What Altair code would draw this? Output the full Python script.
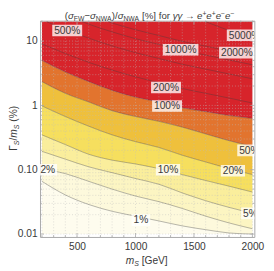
import altair as alt
import pandas as pd

# ---------------- values ----------------
MS = [200, 400, 600, 800, 1000, 1200, 1400, 1600, 1800, 2000]          # m_S [GeV]

# contour lines, Gamma_S/m_S in %, sampled at MS
C1 = [0.066, 0.0406, 0.0288, 0.0226, 0.0190, 0.0160, 0.0134, 0.0117, 0.0104, 0.0100]
C2 = [0.104, 0.087, 0.066, 0.050, 0.039, 0.0319, 0.025, 0.019, 0.0149, 0.0121]
C5 = [0.193, 0.146, 0.111, 0.090, 0.073, 0.0595, 0.0436, 0.033, 0.026, 0.021]
C10 = [0.348, 0.246, 0.174, 0.141, 0.123, 0.104, 0.084, 0.068, 0.0555, 0.045]
C20 = [0.983, 0.671, 0.475, 0.348, 0.273, 0.222, 0.168, 0.132, 0.104, 0.084]
C50 = [2.34, 1.54, 1.13, 0.827, 0.671, 0.565, 0.459, 0.360, 0.283, 0.230]
C100 = [5.0, 3.30, 2.34, 1.71, 1.34, 1.13, 0.917, 0.80, 0.695, 0.627]
C200 = [9.0, 6.4, 4.67, 3.54, 2.78, 2.26, 1.83, 1.54, 1.30, 1.09]
# contours that enter from the top edge
C500_MS = [240, 400, 600, 800, 1000, 1200, 1400, 1600, 1800, 2000]
C500 = [20.0, 15.1, 11.1, 8.4, 6.6, 5.36, 4.36, 3.66, 3.08, 2.59]
C1000_MS = [544, 600, 800, 1000, 1200, 1400, 1600, 1800, 2000]
C1000 = [20.0, 18.3, 13.9, 10.9, 8.86, 7.2, 6.05, 5.09, 4.28]
C2000_MS = [768, 800, 1000, 1200, 1400, 1600, 1800, 2000]
C2000 = [20.0, 19.1, 15.0, 12.2, 9.9, 8.32, 7.0, 5.89]
C5000_MS = [1600, 1800, 2000]
C5000 = [20.0, 14.6, 11.1]

Y_MIN, Y_MAX = 0.01, 20.0          # plotted data range of Gamma_S/m_S

BAND_NAMES = ["<1%", "1-2%", "2-5%", "5-10%", "10-20%", "20-50%", "50-100%", ">100%"]
BAND_COLORS = ["#fefcee", "#fdf9dc", "#fcf5c2", "#faee9c", "#f6df5e",
               "#efc03c", "#e2742e", "#d7242b"]

LABEL_TEXT = ["500%", "1000%", "2000%", "5000%", "200%", "100%",
              "50%", "20%", "10%", "5%", "2%", "1%"]
LABEL_MS = [416, 1386, 1867, 1933, 1261, 1270, 1974, 1833, 1278, 1983, 250, 1046]
LABEL_G = [14.6, 7.32, 6.6, 12.3, 1.90, 0.98, 0.20, 0.0966, 0.10, 0.021, 0.10, 0.0165]

XT_MAJOR = [500, 1000, 1500, 2000]
XT_MINOR = [200, 300, 400, 600, 700, 800, 900, 1100, 1200, 1300, 1400,
            1600, 1700, 1800, 1900]
YT_MAJOR = [0.01, 0.1, 1, 10]
YT_MINOR = [0.02, 0.03, 0.04, 0.05, 0.06, 0.07, 0.08, 0.09,
            0.2, 0.3, 0.4, 0.5, 0.6, 0.7, 0.8, 0.9,
            2, 3, 4, 5, 6, 7, 8, 9, 20]

# ---------------- styling / layout ----------------
W, H = 221, 223
FONT = "Liberation Sans"
TXT = "#3a3a3a"
FRAME = "#a8a8a8"

xs = alt.Scale(domain=[183.4, 2016.6], nice=False, zero=False)
ys = alt.Scale(type="log", domain=[0.009012, 20.73], nice=False, zero=False)

# ---------------- tables ----------------
bounds = [[Y_MIN] * len(MS), C1, C2, C5, C10, C20, C50, C100, [Y_MAX] * len(MS)]
band_rows = []
for i, name in enumerate(BAND_NAMES):
    for k, m in enumerate(MS):
        band_rows.append({"band": name, "ms": m, "lo": bounds[i][k], "hi": bounds[i + 1][k]})
band_df = pd.DataFrame(band_rows)

line_sets = [("1", MS, C1), ("2", MS, C2), ("5", MS, C5), ("10", MS, C10),
             ("20", MS, C20), ("50", MS, C50), ("100", MS, C100), ("200", MS, C200),
             ("500", C500_MS, C500), ("1000", C1000_MS, C1000),
             ("2000", C2000_MS, C2000), ("5000", C5000_MS, C5000)]
line_rows = []
for name, xs_, vs_ in line_sets:
    for m, v in zip(xs_, vs_):
        line_rows.append({"c": name, "ms": m, "g": v})
line_df = pd.DataFrame(line_rows)

AW = {'(': .333, ')': .333, '/': .278, ' ': .278, '[': .278, ']': .278, '%': .889,
      'f': .278, 'o': .556, 'r': .333, 'F': .611, 'W': .944, 'N': .722, 'A': .667,
      'e': .556, '+': .584, '−': .584, 'σ': .6, 'γ': .5, '→': .95, 'm': .833,
      'S': .667, 'G': .778, 'V': .667, 'Γ': .556}


def tw(s, fs):
    return sum(AW.get(c, .556) for c in s) * fs


lab_df = pd.DataFrame({"t": LABEL_TEXT, "ms": LABEL_MS, "g": LABEL_G})
lab_df["box"] = [
    "M{a},{b}L{c},{b}L{c},{d}L{a},{d}Z".format(
        a=-(tw(t, 10.5) / 2 + 2), c=tw(t, 10.5) / 2 + 2, b=-6, d=6)
    for t in LABEL_TEXT
]

# ---------------- layers ----------------
x_axis = alt.Axis(values=XT_MAJOR, format="d", ticks=False, domain=False, grid=False,
                  labelFont=FONT, labelFontSize=10.5, labelColor=TXT, labelPadding=5, title=None)
y_axis = alt.Axis(values=YT_MAJOR, ticks=False, domain=False, grid=False, labelFont=FONT,
                  labelFontSize=10.5, labelColor=TXT, labelPadding=3, title=None,
                  labelExpr="datum.value < 0.05 ? '0.01' : datum.value < 0.5 ? '0.10' : "
                            "datum.value < 5 ? '1' : '10'")

bands = alt.Chart(band_df).mark_area(interpolate="monotone", strokeWidth=0).encode(
    x=alt.X("ms:Q", scale=xs, axis=x_axis),
    y=alt.Y("lo:Q", scale=ys, axis=y_axis),
    y2="hi:Q",
    color=alt.Color("band:N", scale=alt.Scale(domain=BAND_NAMES, range=BAND_COLORS), legend=None),
    detail="band:N",
)

grid_x = alt.Chart(pd.DataFrame({"ms": XT_MAJOR + XT_MINOR})).mark_rule(
    color="#bdbdbd", strokeWidth=0.7, strokeDash=[1, 2], opacity=0.7).encode(
    x=alt.X("ms:Q", scale=xs), y=alt.value(0), y2=alt.value(H))
grid_y = alt.Chart(pd.DataFrame({"g": YT_MAJOR + YT_MINOR})).mark_rule(
    color="#bdbdbd", strokeWidth=0.7, strokeDash=[1, 2], opacity=0.7).encode(
    y=alt.Y("g:Q", scale=ys), x=alt.value(0), x2=alt.value(W))

lines = alt.Chart(line_df).mark_line(interpolate="monotone", color="#3c3c3c",
                                     strokeWidth=0.75, opacity=0.5).encode(
    x=alt.X("ms:Q", scale=xs), y=alt.Y("g:Q", scale=ys), detail="c:N")


def xticks(vals, ln):
    d = pd.DataFrame({"ms": vals})
    b = alt.Chart(d).mark_rule(color=FRAME, strokeWidth=0.8).encode(
        x=alt.X("ms:Q", scale=xs), y=alt.value(H), y2=alt.value(H - ln))
    t = alt.Chart(d).mark_rule(color=FRAME, strokeWidth=0.8).encode(
        x=alt.X("ms:Q", scale=xs), y=alt.value(0), y2=alt.value(ln))
    return [b, t]


def yticks(vals, ln):
    d = pd.DataFrame({"g": vals})
    l = alt.Chart(d).mark_rule(color=FRAME, strokeWidth=0.8).encode(
        y=alt.Y("g:Q", scale=ys), x=alt.value(0), x2=alt.value(ln))
    r = alt.Chart(d).mark_rule(color=FRAME, strokeWidth=0.8).encode(
        y=alt.Y("g:Q", scale=ys), x=alt.value(W), x2=alt.value(W - ln))
    return [l, r]


tick_layers = xticks(XT_MAJOR, 4) + xticks(XT_MINOR, 2) + yticks(YT_MAJOR, 4) + yticks(YT_MINOR, 2)

boxes = alt.Chart(lab_df).mark_point(filled=True, color="white", opacity=0.78, size=4,
                                     strokeWidth=0, clip=True).encode(
    x=alt.X("ms:Q", scale=xs), y=alt.Y("g:Q", scale=ys),
    shape=alt.Shape("box:N", scale=None))
labels = alt.Chart(lab_df).mark_text(font=FONT, fontSize=10.5, color=TXT, clip=True,
                                     baseline="middle", align="center", dy=0.5).encode(
    x=alt.X("ms:Q", scale=xs), y=alt.Y("g:Q", scale=ys), text="t:N")


def compose(pieces, x0, y0, vertical=False):
    """Lay out text pieces one after another (Vega trims outer spaces, so
    spaces are turned into advances)."""
    out = []
    pos = x0 if not vertical else y0
    for text, fs, shift, ital in pieces:
        core = text.strip()
        lead = tw(text[:len(text) - len(text.lstrip())], fs)
        start = pos + lead if not vertical else pos - lead
        if vertical:
            px, py = x0 + shift, start
        else:
            px, py = start, y0 + shift
        out.append(
            alt.Chart(pd.DataFrame({"t": [core]})).mark_text(
                align="left", baseline="alphabetic", font=FONT, fontSize=fs, color=TXT,
                fontStyle="italic" if ital else "normal",
                angle=270 if vertical else 0).encode(
                x=alt.value(px), y=alt.value(py), text="t:N"))
        pos = pos + tw(text, fs) if not vertical else pos - tw(text, fs)
    return out


TF, SF = 10, 7
title_pieces = [("(", TF, 0, False), ("σ", TF, 0, True), ("FW", SF, 1.5, False),
                ("−", TF, 0, False), ("σ", TF, 0, True), ("NWA", SF, 1.5, False),
                (")/", TF, 0, False), ("σ", TF, 0, True), ("NWA", SF, 1.5, False),
                (" [%]", TF, 0, False), (" for", TF, 0, False), (" γγ", TF, 0, True),
                (" →", TF, 0, False),
                (" e", TF, 0, True), ("+", SF, -4, False), ("e", TF, 0, True), ("+", SF, -4, False),
                ("e", TF, 0, True), ("−", SF, -4, False), ("e", TF, 0, True), ("−", SF, -4, False)]
title_w = sum(tw(p[0], p[1]) for p in title_pieces)
title_layers = compose(title_pieces, 113 - title_w / 2, -1.3)

xt_pieces = [("m", 10.5, 0, True), ("S", 7.2, 2, True), (" [GeV]", 10.5, 0, False)]
xt_w = sum(tw(p[0], p[1]) for p in xt_pieces)
xt_layers = compose(xt_pieces, 110 - xt_w / 2, 251)

yt_pieces = [("Γ", 10.5, 0, False), ("S", 7.2, 2, True), ("/", 10.5, 0, False),
             ("m", 10.5, 0, True), ("S", 7.2, 2, True), (" (%)", 10.5, 0, False)]
yt_w = sum(tw(p[0], p[1]) for p in yt_pieces)
yt_layers = compose(yt_pieces, -24, 111 + yt_w / 2, vertical=True)

chart = alt.layer(
    bands, grid_x, grid_y, lines, *tick_layers, boxes, labels,
    *title_layers, *xt_layers, *yt_layers
).properties(
    width=W, height=H,
    padding={"left": 33, "top": 9, "right": 12, "bottom": 31},
    autosize=alt.AutoSizeParams(type="none"),
).configure_view(stroke=FRAME, strokeWidth=1)

chart.save("out.html", embed_options={"renderer": "svg", "actions": False})
